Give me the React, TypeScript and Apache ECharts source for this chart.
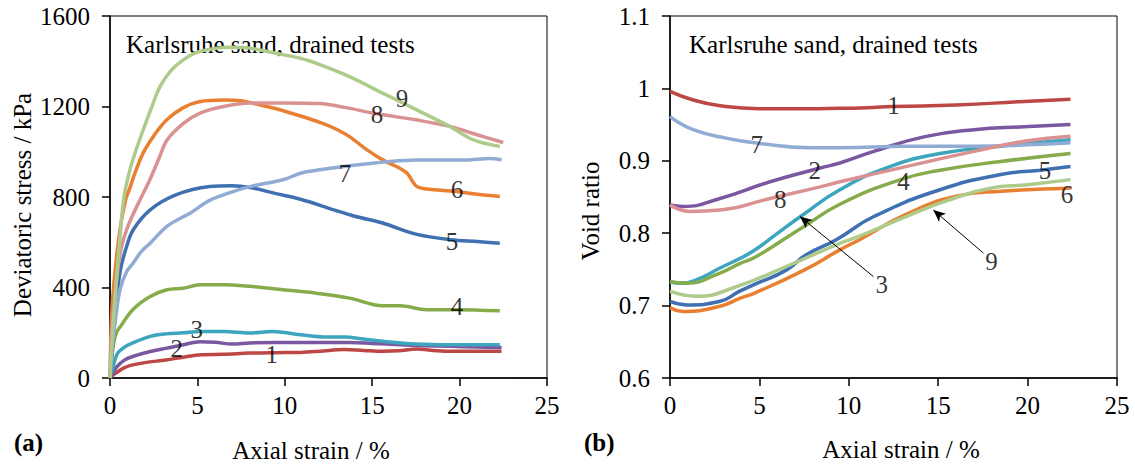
import React, { useEffect, useRef } from "react";
import * as echarts from "echarts";

// ---- Data: (a) deviatoric stress [kPa] vs axial strain [%] ----
const stress1 = [[0,0],[0.15,12],[0.4,25],[0.8,45],[1.3,58],[2,68],[3.2,80],[4.2,92],[5.2,103],[6.5,105],[8,110],[9.5,112],[10.9,113],[12,118],[13.4,126],[14.5,122],[15.6,118],[16.5,120],[17.55,128],[18.5,122],[19.5,118],[21,118],[22.4,118]];
const stress2 = [[0,0],[0.15,20],[0.4,50],[0.8,78],[1.3,95],[2.3,117],[3.25,132],[4.2,147],[5.15,160],[6,158],[7,150],[8,155],[9.5,157],[11,157],[13.7,157],[15,153],[16.6,147],[18,143],[19.5,140],[21,137],[22.4,135]];
const stress3 = [[0,0],[0.15,40],[0.4,105],[0.8,135],[1.3,155],[2.3,184],[3.2,195],[4.2,200],[5.15,206],[6.5,206],[8,199],[9.3,206],[10.9,191],[12.4,181],[13.4,181],[14.5,172],[15.6,162],[17.5,150],[19.5,147],[22.3,147]];
const stress4 = [[0,0],[0.1,90],[0.25,170],[0.4,205],[0.6,228],[1.3,302],[2.3,360],[3.25,390],[4.2,397],[5.15,412],[6.5,412],[8,405],[9.9,390],[11.8,375],[13.7,353],[15.6,319],[16.6,319],[18.1,302],[19.8,302],[22.3,297]];
const stress5 = [[0,0],[0.15,150],[0.35,330],[0.6,480],[0.95,581],[1.33,655],[2.3,743],[3.8,810],[5.7,846],[7,850],[8,842],[9.5,815],[10.9,790],[12.8,743],[14,715],[15.6,685],[17.5,636],[19.5,611],[21,603],[22.3,596]];
const stress6 = [[0,0],[0.1,287],[0.3,480],[0.57,655],[0.9,790],[1.14,840],[1.4,900],[1.9,995],[2.5,1070],[3.25,1141],[4.2,1195],[5.15,1222],[6.5,1229],[7.5,1226],[8.3,1212],[9.5,1190],[10.9,1158],[12,1130],[12.8,1105],[13.7,1067],[14.7,1008],[15.6,964],[16.5,930],[17,905],[17.3,870],[17.55,846],[18.1,835],[19.8,824],[21,812],[22.3,802]];
const stress7 = [[0,0],[0.1,120],[0.3,250],[0.57,390],[0.95,470],[1.33,508],[1.8,560],[2.3,596],[3.25,670],[4,705],[4.6,729],[5.7,785],[7.05,824],[8,846],[9.9,876],[10.9,905],[12,920],[13.4,935],[16,957],[17.5,964],[20.4,964],[21.7,970],[22.4,965]];
const stress8 = [[0,0],[0.1,200],[0.38,434],[0.6,560],[0.95,655],[1.3,720],[1.72,788],[2.3,880],[2.8,970],[3.25,1050],[4.2,1125],[5.15,1171],[6.5,1200],[8,1215],[10,1216],[12,1213],[13.5,1195],[15.1,1170],[17.5,1141],[19.5,1111],[21,1075],[22.5,1041]];
const stress9 = [[0,0],[0.15,200],[0.35,420],[0.57,620],[0.8,800],[1.14,920],[1.5,1010],[1.9,1097],[2.4,1200],[2.86,1288],[3.5,1360],[4.2,1406],[5,1440],[6.1,1458],[7,1462],[8,1458],[9.5,1435],[10.9,1413],[12,1385],[13.7,1332],[15.6,1259],[17.55,1185],[19.46,1111],[20.8,1052],[22.3,1023]];

// ---- Data: (b) void ratio vs axial strain [%] ----
const void1 = [[0,0.996],[1.3,0.984],[2.8,0.976],[5,0.972],[7.8,0.972],[9.5,0.9726],[10.6,0.973],[12.5,0.975],[16,0.977],[19.8,0.982],[22.4,0.985]];
const void2 = [[0,0.839],[0.75,0.837],[2.8,0.848],[5.6,0.871],[8.4,0.89],[9.5,0.897],[11.4,0.913],[14.2,0.933],[17,0.943],[19.8,0.947],[22.4,0.95]];
const void3 = [[0,0.733],[0.56,0.731],[1.5,0.736],[2.8,0.752],[3.9,0.765],[4.7,0.776],[5.8,0.796],[7.3,0.823],[9.5,0.86],[12.3,0.892],[15.1,0.91],[18.5,0.92],[22.4,0.929]];
const void4 = [[0,0.733],[0.93,0.731],[2.8,0.745],[3.9,0.758],[4.7,0.766],[6.9,0.8],[7.3,0.806],[9.5,0.84],[12.9,0.874],[15.1,0.887],[18.5,0.899],[22.4,0.91]];
const void5 = [[0,0.706],[0.93,0.701],[2.8,0.706],[3.9,0.72],[4.7,0.729],[6.5,0.749],[7.6,0.77],[9.3,0.791],[11.4,0.823],[15.1,0.86],[18.5,0.881],[20.7,0.887],[22.4,0.892]];
const void6 = [[0,0.697],[0.75,0.692],[2.8,0.699],[3.9,0.71],[4.7,0.717],[7.5,0.749],[9.5,0.777],[10.6,0.791],[13.2,0.826],[16,0.851],[18.5,0.858],[22.4,0.862]];
const void7 = [[0,0.961],[1.3,0.943],[3.2,0.931],[5,0.924],[7.8,0.918],[9.5,0.918],[13.2,0.92],[17,0.92],[20,0.922],[22.4,0.925]];
const void8 = [[0,0.839],[1.1,0.83],[2.8,0.832],[5.6,0.848],[8.4,0.864],[9.5,0.871],[13.2,0.892],[17,0.913],[19.8,0.927],[22.4,0.934]];
const void9 = [[0,0.72],[1.5,0.713],[3.7,0.726],[6.5,0.754],[9.5,0.786],[10.6,0.796],[13.2,0.823],[15.5,0.845],[17.9,0.862],[20,0.867],[22.4,0.874]];

const testNames = ["1", "2", "3", "4", "5", "6", "7", "8", "9"];
const colors = ["#BC4745", "#7A58A1", "#3EA5BE", "#86AB4B", "#3F70B1", "#E97F30", "#91ACD4", "#D99291", "#AECB8C"];
const stressData = [stress1, stress2, stress3, stress4, stress5, stress6, stress7, stress8, stress9];
const voidData = [void1, void2, void3, void4, void5, void6, void7, void8, void9];

// curve-number annotations (data coordinates)
const stressLabels = [["1",9.25,103],["2",3.82,132],["3",4.96,213],["4",19.85,316],["5",19.56,603],["6",19.85,832],["7",13.45,905],["8",15.27,1163],["9",16.7,1237]];
const voidLabels = [["1",12.5,0.977],["7",4.85,0.922],["2",8.1,0.887],["8",6.16,0.846],["4",13.06,0.871],["5",20.98,0.887],["6",22.2,0.853],["3",11.84,0.729],["9",17.98,0.7615]];
// arrows: [tail, head]
const voidArrows = [[[11.38,0.74],[7.27,0.823]],[[17.53,0.7725],[14.73,0.832]]];

const strainTicks = { min: 0, max: 25, interval: 5 };
const stressTicks = { min: 0, max: 1600, interval: 400 };
const voidTicks = { min: 0.6, max: 1.1, interval: 0.1 };

const FONT = "Liberation Serif";
const txt = (text: string, extra: any = {}) => ({ text, fill: "#000", fontFamily: FONT, fontSize: 25, ...extra });

export default function App() {
  const ref = useRef<HTMLDivElement>(null);
  useEffect(() => {
    if (!ref.current) return;
    const chart = echarts.init(ref.current, undefined, { renderer: "svg" });
    const axisText = { color: "#000", fontFamily: FONT, fontSize: 25 };
    const xAxisBase = (gridIndex: number) => ({
      type: "value" as const,
      gridIndex,
      ...strainTicks,
      axisLine: { show: true, lineStyle: { color: "#000", width: 1.5 } },
      axisTick: { show: true, inside: false, length: 8, lineStyle: { color: "#000", width: 1.5 } },
      axisLabel: { ...axisText, margin: 15, formatter: (v: number) => String(v) },
      splitLine: { show: false },
    });
    const yAxisBase = (gridIndex: number, ticks: any) => ({
      type: "value" as const,
      gridIndex,
      ...ticks,
      axisLine: { show: true, lineStyle: { color: "#000", width: 1.5 } },
      axisTick: { show: true, inside: false, length: 8, lineStyle: { color: "#000", width: 1.5 } },
      axisLabel: { ...axisText, margin: 20, formatter: (v: number) => String(Math.round(v * 1000) / 1000) },
      splitLine: { show: false },
    });
    const lineSeries: any[] = [];
    stressData.forEach((d, i) => {
      lineSeries.push({
        type: "line", name: testNames[i], xAxisIndex: 0, yAxisIndex: 0, data: d,
        showSymbol: false, smooth: 0.35,
        lineStyle: { color: colors[i], width: 3.5 }, itemStyle: { color: colors[i] },
      });
    });
    voidData.forEach((d, i) => {
      lineSeries.push({
        type: "line", name: testNames[i], xAxisIndex: 1, yAxisIndex: 1, data: d,
        showSymbol: false, smooth: 0.5,
        lineStyle: { color: colors[i], width: 3.5 }, itemStyle: { color: colors[i] },
      });
    });
    const labelSeries = (xi: number, labels: any[], extra: any = {}) => ({
      type: "scatter", xAxisIndex: xi, yAxisIndex: xi, silent: true, symbolSize: 1,
      itemStyle: { color: "rgba(0,0,0,0)" }, z: 5,
      label: { show: true, position: "inside", formatter: "{b}", color: "#000", fontFamily: FONT, fontSize: 25 },
      data: labels.map((l) => ({ name: l[0], value: [l[1], l[2]] })),
      ...extra,
    });
    const option: any = {
      animation: false,
      backgroundColor: "#fff",
      grid: [
        { left: 110, top: 16, width: 437, height: 362, show: true, borderColor: "#000", borderWidth: 1, backgroundColor: "transparent" },
        { left: 670, top: 16, width: 447, height: 362, show: true, borderColor: "#000", borderWidth: 1, backgroundColor: "transparent" },
      ],
      xAxis: [xAxisBase(0), xAxisBase(1)],
      yAxis: [yAxisBase(0, stressTicks), yAxisBase(1, voidTicks)],
      series: [
        ...lineSeries,
        labelSeries(0, stressLabels),
        labelSeries(1, voidLabels, {
          markLine: {
            silent: true, symbol: ["none", "arrow"], symbolSize: [8, 12],
            lineStyle: { color: "#000", width: 1, type: "solid" },
            label: { show: false },
            data: voidArrows.map((a) => [{ coord: a[0] }, { coord: a[1] }]),
          },
        }),
      ],
      graphic: [
        { type: "text", x: 126, y: 44, style: txt("Karlsruhe sand, drained tests", { textVerticalAlign: "middle" }) },
        { type: "text", x: 689, y: 44, style: txt("Karlsruhe sand, drained tests", { textVerticalAlign: "middle" }) },
        { type: "text", x: 311, y: 450, style: txt("Axial strain / %", { textAlign: "center", textVerticalAlign: "middle" }) },
        { type: "text", x: 901, y: 449, style: txt("Axial strain / %", { textAlign: "center", textVerticalAlign: "middle" }) },
        { type: "text", x: 22, y: 205, rotation: Math.PI / 2, style: txt("Deviatoric stress / kPa", { textAlign: "center", textVerticalAlign: "middle" }) },
        { type: "text", x: 590, y: 211, rotation: Math.PI / 2, style: txt("Void ratio", { textAlign: "center", textVerticalAlign: "middle" }) },
        { type: "text", x: 14, y: 442, style: txt("(a)", { fontWeight: "bold", textVerticalAlign: "middle" }) },
        { type: "text", x: 584, y: 442, style: txt("(b)", { fontWeight: "bold", textVerticalAlign: "middle" }) },
      ],
    };
    chart.setOption(option);
    return () => chart.dispose();
  }, []);
  return <div ref={ref} style={{ position: "fixed", left: 0, top: 0, width: 1135, height: 471, background: "#fff" }} />;
}
